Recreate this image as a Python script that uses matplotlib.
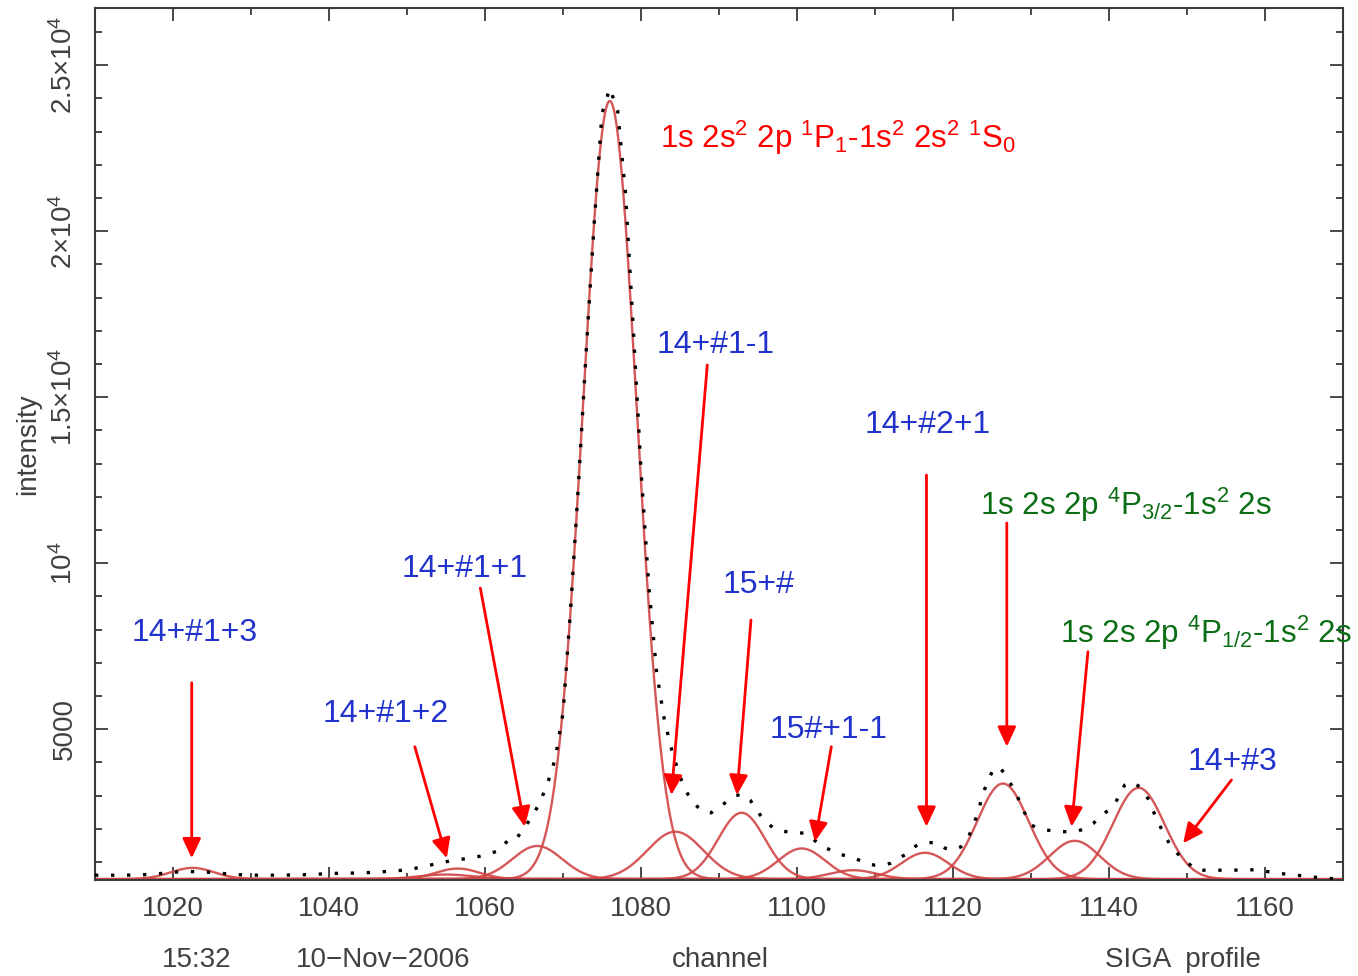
import numpy as np
import matplotlib
matplotlib.use("Agg")
import matplotlib.pyplot as plt
from matplotlib.ticker import MultipleLocator, FixedLocator, FixedFormatter

plt.rcParams['font.family'] = ['Liberation Sans', 'DejaVu Sans']
plt.rcParams['mathtext.fontset'] = 'custom'
plt.rcParams['mathtext.rm'] = 'Liberation Sans'
plt.rcParams['mathtext.it'] = 'Liberation Sans:italic'

channel = [1010, 1012, 1014, 1016, 1018, 1020, 1022, 1024, 1026, 1028, 1030, 1032,
           1034, 1036, 1038, 1040, 1042, 1044, 1046, 1048, 1050, 1052, 1054, 1056,
           1058, 1060, 1062, 1063, 1064, 1065, 1066, 1067, 1068, 1069, 1070, 1071,
           1072, 1073, 1074, 1075, 1076, 1077, 1078, 1079, 1080, 1081, 1082, 1083,
           1084, 1085, 1086, 1087, 1088, 1089, 1090, 1091, 1092, 1093, 1094, 1095,
           1096, 1097, 1098, 1099, 1100, 1101, 1102, 1103, 1104, 1105, 1106, 1107,
           1108, 1109, 1110, 1111, 1112, 1113, 1114, 1115, 1116, 1117, 1118, 1119,
           1120, 1121, 1122, 1123, 1124, 1125, 1126, 1127, 1128, 1129, 1130, 1131,
           1132, 1133, 1134, 1135, 1136, 1137, 1138, 1139, 1140, 1141, 1142, 1143,
           1144, 1145, 1146, 1147, 1148, 1149, 1150, 1151, 1152, 1154, 1156, 1158,
           1160, 1162, 1164, 1166, 1168, 1170]
intensity = [600, 600, 600, 610, 640, 690, 710, 700, 660, 620, 600, 600,
             600, 610, 620, 650, 660, 665, 690, 720, 760, 850, 960, 1050,
             1110, 1200, 1360, 1680, 1690, 2020, 2350, 2775, 3346, 4100, 5480, 8700,
             12450, 16500, 20240, 23550, 24300, 23640, 21170, 17110, 12800, 9300, 6720, 5270,
             4320, 3560, 3040, 2710, 2510, 2480, 2660, 2810, 2990, 3040, 2860, 2500,
             2200, 2020, 1930, 1900, 1870, 1870, 1700, 1500, 1390, 1260, 1200, 1150,
             1050, 950, 900, 900, 960, 1110, 1230, 1450, 1570, 1580, 1580, 1410,
             1370, 1450, 1750, 2350, 3160, 3710, 3860, 3510, 3110, 2560, 2110, 2010,
             1960, 1930, 1910, 1910, 1930, 2010, 2160, 2410, 2560, 2860, 3310, 3410,
             3250, 2910, 2350, 1860, 1450, 1200, 1000, 770, 750, 750, 750, 770,
             720, 650, 600, 550, 500, 490]

# fitted gaussian components: centre, height above background, sigma
comp_center = [1022.5, 1055.0, 1056.5, 1066.7, 1076.0, 1084.4, 1092.9, 1100.6,
               1107.2, 1116.4, 1126.4, 1135.6, 1143.8]
comp_height = [340, 140, 320, 1000, 23440, 1430, 2000, 925, 270, 795, 2880, 1155, 2750]
comp_sigma = [2.8, 3.5, 2.8, 3.2, 3.45, 3.6, 3.0, 3.0, 3.0, 3.0, 3.3, 3.2, 3.3]
background = 480

# annotation labels: text, text position, arrow start, arrow tip
blue_labels = ["14+#1+3", "14+#1+2", "14+#1+1", "14+#1-1", "15+#", "15#+1-1", "14+#2+1", "14+#3"]
blue_pos = [(1022.8, 7895), (1047.3, 5455), (1057.4, 9822), (1089.6, 16570),
            (1095.1, 9340), (1104.0, 4973), (1116.8, 14160), (1155.8, 4009)]
arrow_from = [(1022.4, 6398), (1051.0, 4470), (1059.4, 9250), (1088.5, 15967),
              (1094.1, 8286), (1104.4, 4470), (1116.6, 12653), (1126.9, 11207),
              (1137.3, 7331), (1155.7, 3467)]
arrow_to = [(1022.4, 1109), (1055.1, 1109), (1065.1, 2060), (1083.9, 3015),
            (1092.3, 3015), (1102.3, 1609), (1116.6, 2060), (1126.9, 4470),
            (1135.2, 2060), (1149.5, 1560)]

fig = plt.figure(figsize=(13.58, 9.76), dpi=100)
ax = fig.add_axes([95 / 1358, 96.5 / 976, 1248 / 1358, 871.5 / 976])

x = np.linspace(1010, 1170, 1601)
for c, h, s in zip(comp_center, comp_height, comp_sigma):
    ax.plot(x, background + h * np.exp(-(x - c) ** 2 / (2 * s ** 2)),
            color='#d24545', lw=1.7, alpha=0.9, zorder=2)

ax.plot(channel, intensity, color='black', lw=2.4, linestyle=(0, (1, 3.8)), zorder=3)

for (x0, y0), (x1, y1) in zip(arrow_from, arrow_to):
    ax.annotate('', xy=(x1, y1), xytext=(x0, y0),
                arrowprops=dict(arrowstyle='-|>,head_length=0.6,head_width=0.28',
                                color='#ff0000', lw=2.0, mutation_scale=20,
                                shrinkA=0, shrinkB=0), zorder=4)

for lab, (tx, ty) in zip(blue_labels, blue_pos):
    ax.text(tx, ty, lab, color='#2233cc', fontsize=23, ha='center', va='center')

ax.text(1082.4, 22500, r'1s 2s$^2$ 2p $^1$P$_1$-1s$^2$ 2s$^2$ $^1$S$_0$',
        color='#ff0000', fontsize=22.5, ha='left', va='baseline')
ax.text(1123.5, 11450, r'1s 2s 2p $^4$P$_{3/2}$-1s$^2$ 2s',
        color='#0b6e14', fontsize=22.5, ha='left', va='baseline')
ax.text(1133.7, 7585, r'1s 2s 2p $^4$P$_{1/2}$-1s$^2$ 2s',
        color='#0b6e14', fontsize=22.5, ha='left', va='baseline', clip_on=False)

ax.set_xlim(1010, 1170)
ax.set_ylim(470, 26720)

frame_col = '#3a3a3a'
for sp in ax.spines.values():
    sp.set_color(frame_col)
    sp.set_linewidth(1.5)

ax.xaxis.set_major_locator(MultipleLocator(20))
ax.xaxis.set_minor_locator(MultipleLocator(10))
ax.yaxis.set_major_locator(FixedLocator([5000, 10000, 15000, 20000, 25000]))
ax.yaxis.set_major_formatter(FixedFormatter(['5000', r'10$^4$', r'1.5×10$^4$',
                                             r'2×10$^4$', r'2.5×10$^4$']))
ax.yaxis.set_minor_locator(MultipleLocator(1000))
ax.tick_params(which='both', direction='in', top=True, right=True,
               color=frame_col, width=1.3, labelcolor='#404040', labelsize=20, pad=12)
ax.tick_params(which='major', length=9.5)
ax.tick_params(which='minor', length=5)
for t in ax.get_yticklabels():
    t.set_rotation(90)
    t.set_va('center')

ax.set_ylabel('intensity', fontsize=20, color='#404040', va='center')
ax.yaxis.set_label_coords(-0.0537, 0.5)

fig.text(197 / 1358, 1 - 960 / 976, '15:32', fontsize=20, color='#404040', ha='center', va='center')
fig.text(383 / 1358, 1 - 960 / 976, '10\u2212Nov\u22122006', fontsize=20, color='#404040', ha='center', va='center')
fig.text(720 / 1358, 1 - 960 / 976, 'channel', fontsize=20, color='#404040', ha='center', va='center')
fig.text(1183 / 1358, 1 - 960 / 976, 'SIGA  profile', fontsize=20, color='#404040', ha='center', va='center')

fig.savefig('out.png', dpi=100)
